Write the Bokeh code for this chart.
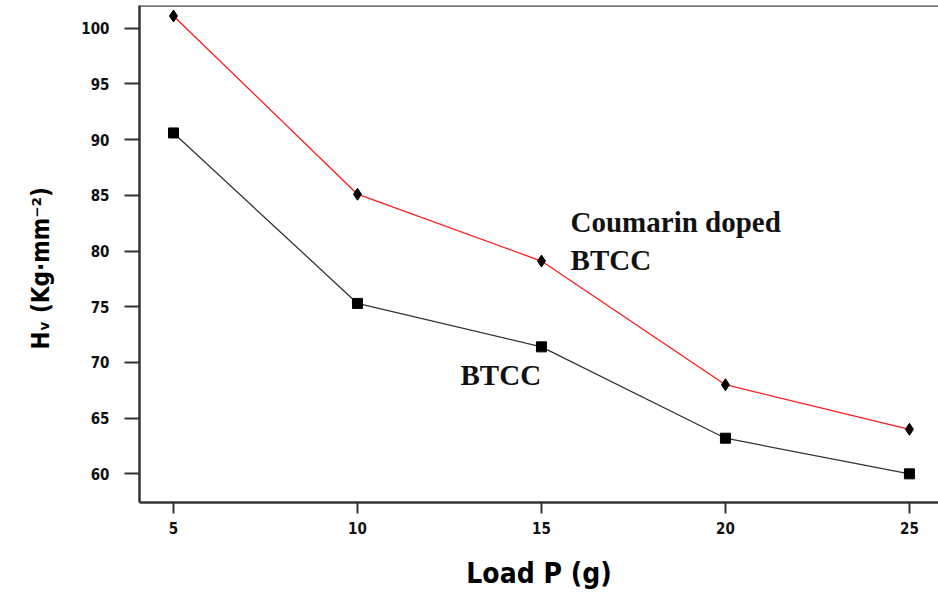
from bokeh.plotting import figure
from bokeh.models import Range1d, Span, FixedTicker, Title
from bokeh.core.properties import value
from bokeh.embed import file_html
from bokeh.resources import INLINE

# Data
load_g = [5, 10, 15, 20, 25]
hv_coumarin_btcc = [101.1, 85.1, 79.1, 68.0, 64.0]
hv_btcc = [90.6, 75.3, 71.4, 63.2, 60.0]
x_ticks = [5, 10, 15, 20, 25]
y_ticks = [60, 65, 70, 75, 80, 85, 90, 95, 100]

p = figure(width=938, height=592, output_backend="svg", toolbar_location=None,
           x_range=Range1d(4.076, 25.79), y_range=Range1d(57.43, 102.04),
           min_border_left=139, min_border_right=0, min_border_top=5,
           min_border_bottom=84)
p.outline_line_color = None
p.grid.visible = False
p.background_fill_color = "white"
p.border_fill_color = "white"

# top border line
p.add_layout(Span(location=102.04, dimension="width", line_color="#444444", line_width=2.5))

# series
p.line(load_g, hv_coumarin_btcc, line_color="#ff1a1a", line_width=1.3)
p.scatter(load_g, hv_coumarin_btcc, marker="diamond", size=12, color="black")
p.line(load_g, hv_btcc, line_color="#333333", line_width=1.3)
p.scatter(load_g, hv_btcc, marker="square", size=10, color="black")

# annotations
serif = value("Liberation Serif")
p.text(x=[15.79], y=[82.6], text=["Coumarin doped"], text_font=serif,
       text_font_style="bold", text_font_size="29px", text_color="#111111",
       text_baseline="alphabetic")
p.text(x=[15.79], y=[79.2], text=["BTCC"], text_font=serif,
       text_font_style="bold", text_font_size="29px", text_color="#111111",
       text_baseline="alphabetic")
p.text(x=[12.80], y=[68.85], text=["BTCC"], text_font=serif,
       text_font_style="bold", text_font_size="29px", text_color="#111111",
       text_baseline="alphabetic")

# axes
for ax in (p.xaxis[0], p.yaxis[0]):
    ax.axis_line_color = "#333333"
    ax.axis_line_width = 2.5
    ax.major_tick_line_color = "#333333"
    ax.major_tick_line_width = 2
    ax.major_tick_in = 0
    ax.minor_tick_line_color = None
    ax.major_label_text_font = "DejaVu Sans Condensed"
    ax.major_label_text_font_style = "bold"
    ax.major_label_text_font_size = "15px"
    ax.major_label_text_color = "#111111"
    ax.axis_label_text_font = "DejaVu Sans Condensed"
    ax.axis_label_text_font_style = "bold"
    ax.axis_label_text_color = "#000000"

p.xaxis.ticker = FixedTicker(ticks=x_ticks)
p.yaxis.ticker = FixedTicker(ticks=y_ticks)
p.xaxis.major_tick_out = 11
p.yaxis.major_tick_out = 15
p.xaxis.major_label_standoff = 8
p.yaxis.major_label_standoff = 15
p.xaxis.axis_label = "Load P (g)"
p.xaxis.axis_label_text_font_size = "28px"
p.xaxis.axis_label_standoff = 20

# y-axis title, placed lower than centre as in the reference
ytitle = Title(text="H\u1d65 (Kg\u00b7mm\u207b\u00b2)", align="left", offset=153,
               standoff=47, text_font="DejaVu Sans Condensed",
               text_font_style="bold", text_font_size="24px",
               text_color="#000000")
p.add_layout(ytitle, "left")

open("out.html", "w").write(file_html(p, INLINE))
